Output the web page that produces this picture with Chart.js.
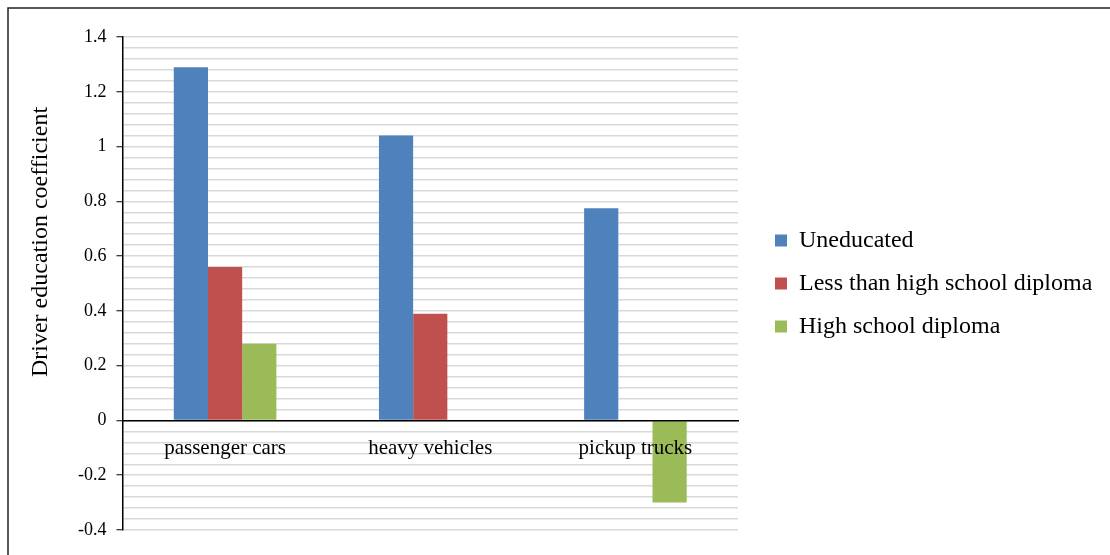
<!DOCTYPE html>
<html>
<head>
<meta charset="utf-8">
<script src="https://cdn.jsdelivr.net/npm/chart.js@4/dist/chart.umd.min.js"></script>
<style>
html,body{margin:0;padding:0;background:#fff;}
#wrap{width:1110px;height:555px;position:relative;}
</style>
</head>
<body>
<div id="wrap"><canvas id="c"></canvas></div>
<script>
const categories = ["passenger cars", "heavy vehicles", "pickup trucks"];
const seriesNames = ["Uneducated", "Less than high school diploma", "High school diploma"];
const uneducated = [1.29, 1.04, 0.775];
const lessThanHighSchool = [0.56, 0.39, null];
const highSchool = [0.28, null, -0.30];
const yTitle = "Driver education coefficient";
const yMin = -0.4, yMax = 1.4, minorStep = 0.04, majorStep = 0.2;
const colors = ["#4F81BD", "#C0504D", "#9BBB59"];

function isMajor(v){ const r = v/majorStep; return Math.abs(r - Math.round(r)) < 1e-6; }

const framePlugin = {
  id: 'frame',
  afterInit(chart){
    const lg = chart.legend;
    if (lg) {
      const orig = lg.fit.bind(lg);
      lg.fit = function(){ orig(); this.width = 354; };
    }
  },
  beforeDraw(chart){
    const ctx = chart.ctx;
    ctx.save();
    ctx.fillStyle = '#fff';
    ctx.fillRect(0,0,chart.width,chart.height);
    ctx.strokeStyle = '#222';
    ctx.lineWidth = 1.5;
    ctx.beginPath();
    ctx.moveTo(8, chart.height);
    ctx.lineTo(8, 8);
    ctx.lineTo(chart.width, 8);
    ctx.stroke();
    ctx.restore();
  },
  afterDraw(chart){
    const ctx = chart.ctx;
    ctx.save();
    ctx.translate(47, 242);
    ctx.rotate(-Math.PI/2);
    ctx.font = '24px "Liberation Serif"';
    ctx.fillStyle = '#000';
    ctx.textAlign = 'center';
    ctx.textBaseline = 'alphabetic';
    ctx.fillText(yTitle, 0, 0);
    ctx.restore();
  }
};

new Chart(document.getElementById('c'), {
  type: 'bar',
  data: {
    labels: categories,
    datasets: [
      {label: seriesNames[0], data: uneducated, backgroundColor: colors[0], borderWidth: 0},
      {label: seriesNames[1], data: lessThanHighSchool, backgroundColor: colors[1], borderWidth: 0},
      {label: seriesNames[2], data: highSchool, backgroundColor: colors[2], borderWidth: 0}
    ]
  },
  options: {
    responsive: true,
    maintainAspectRatio: false,
    animation: false,
    devicePixelRatio: 1,
    layout: {padding: {left: 68, top: 37, bottom: 25, right: 0}},
    datasets: {bar: {categoryPercentage: 0.5, barPercentage: 1.0}},
    scales: {
      x: {
        position: {y: 0},
        grid: {display: false},
        border: {display: true, color: '#000', width: 1.5, z: 1},
        ticks: {z: 1, color: '#000', padding: 7, font: {family: 'Liberation Serif', size: 21}, maxRotation: 0}
      },
      y: {
        min: yMin, max: yMax,
        afterBuildTicks(scale){
          const t = [];
          const n = Math.round((yMax - yMin)/minorStep);
          for (let i = 0; i <= n; i++) t.push({value: +(yMin + i*minorStep).toFixed(4)});
          scale.ticks = t;
        },
        grid: {
          color: '#d9d9d9', lineWidth: 1.5, tickLength: 6,
          tickColor: (c) => (c.tick && isMajor(c.tick.value)) ? '#000' : 'rgba(0,0,0,0)',
          tickWidth: 1
        },
        border: {display: true, color: '#000', width: 1.5},
        ticks: {
          autoSkip: false, color: '#000', padding: 10,
          font: {family: 'Liberation Serif', size: 18},
          callback: (v) => isMajor(v) ? String(Math.round(v*10)/10) : ''
        },
        title: {display: false}
      },
      spacer: {
        position: 'right', display: true,
        grid: {display: false}, border: {display: false}, ticks: {display: false},
        afterFit(s){ s.width = 18; }
      }
    },
    plugins: {
      legend: {
        position: 'right',
        labels: {boxWidth: 12, boxHeight: 12, padding: 19, color: '#000',
          font: {family: 'Liberation Serif', size: 24}}
      },
      tooltip: {enabled: false}
    }
  },
  plugins: [framePlugin]
});
</script>
</body>
</html>
